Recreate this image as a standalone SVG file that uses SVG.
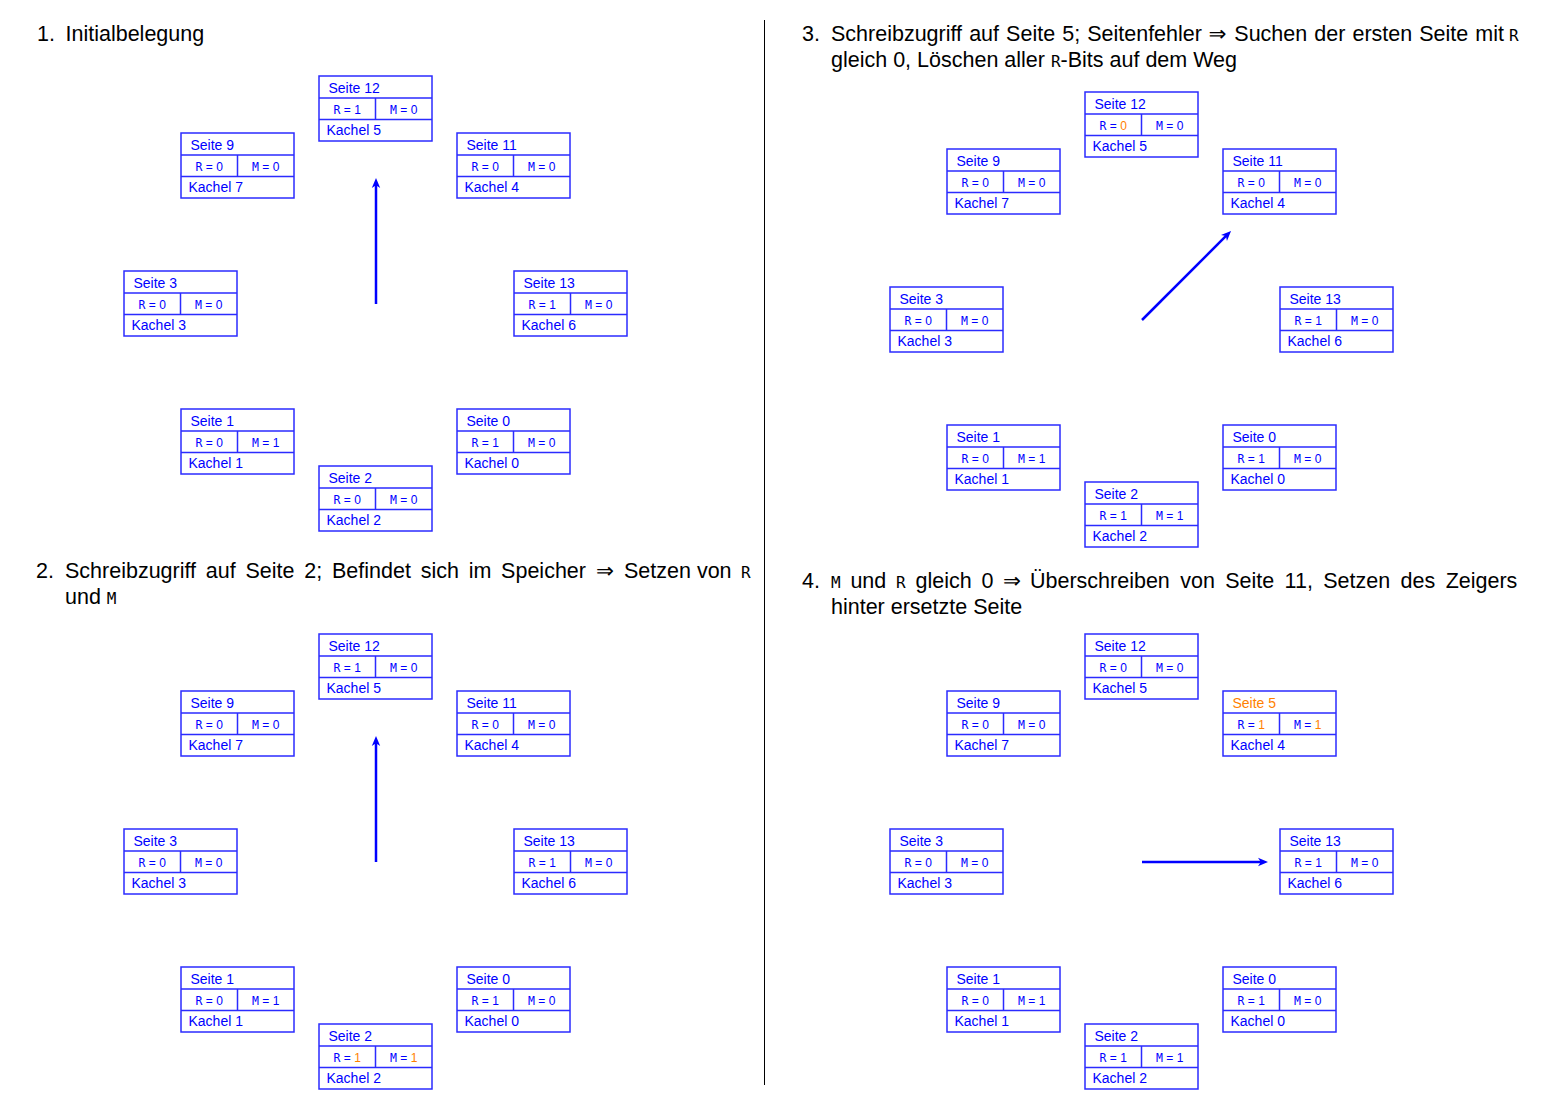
<svg xmlns="http://www.w3.org/2000/svg" width="1548" height="1117" viewBox="0 0 1548 1117">
<defs>
<style>
.box{fill:#fff;stroke:#2b2bff;stroke-width:1.5}
.ln{fill:none;stroke:#2b2bff;stroke-width:1.5}
.t{font-family:"Liberation Sans",Arial,sans-serif;font-size:14px;fill:#0000ff}
.v{font-family:"Liberation Sans",Arial,sans-serif;font-size:12px;fill:#0000ff;text-anchor:middle}
.m{font-family:"DejaVu Sans Mono",monospace;font-size:11.5px}
.o{fill:#ff8000}
.h{font-family:"Liberation Sans",Arial,sans-serif;font-size:21.5px;fill:#000}
.hm{font-family:"DejaVu Sans Mono",monospace;font-size:16px}
.sym{font-family:"DejaVu Sans",sans-serif}
.ar{fill:none;stroke:#0000ff;stroke-width:2.5;marker-end:url(#ah)}
.sep{stroke:#000;stroke-width:1}
</style>
<marker id="ah" viewBox="0 0 10 10" refX="4" refY="5" markerWidth="10" markerHeight="10" markerUnits="userSpaceOnUse" orient="auto">
<path d="M0,0.8 L10,5 L0,9.2 L2.8,5 Z" fill="#0000ff"/>
</marker>
</defs>
<rect width="1548" height="1117" fill="#fff"/>
<line class="sep" x1="764.5" y1="20" x2="764.5" y2="1085"/>

<g id="headers">
<text class="h" x="37" y="41">1.</text>
<text class="h" x="65.5" y="41">Initialbelegung</text>

<text class="h" x="36" y="578">2.</text>
<text class="h" y="578"><tspan x="65" style="word-spacing:3.8px">Schreibzugriff auf Seite 2; Befindet sich im Speicher</tspan><tspan x="596" class="sym">⇒</tspan><tspan x="624">Setzen von</tspan><tspan x="741" class="hm">R</tspan></text>
<text class="h" x="65" y="604">und <tspan class="hm">M</tspan></text>

<text class="h" x="802" y="41">3.</text>
<text class="h" y="41"><tspan x="831" style="word-spacing:1.1px">Schreibzugriff auf Seite 5; Seitenfehler</tspan><tspan x="1208.5" class="sym">⇒</tspan><tspan x="1234.3" style="word-spacing:1.1px">Suchen der ersten Seite mit</tspan><tspan x="1509" class="hm">R</tspan></text>
<text class="h" x="831" y="67">gleich 0, Löschen aller <tspan class="hm">R</tspan>-Bits auf dem Weg</text>

<text class="h" x="802" y="588">4.</text>
<text class="h" y="588" style="word-spacing:3.8px"><tspan x="831" class="hm">M</tspan> und <tspan class="hm">R</tspan> gleich 0</text>
<text class="h" y="588"><tspan x="1003" class="sym">⇒</tspan><tspan x="1030" style="word-spacing:4.4px">Überschreiben von Seite 11, Setzen des Zeigers</tspan></text>
<text class="h" x="831" y="614">hinter ersetzte Seite</text>
</g>

<g id="panel1">
<g id="p1-seite12" transform="translate(319,76)"><rect class="box" width="113" height="65"/><path class="ln" d="M0 22H113M0 43.5H113M56.5 22V43.5"/><text class="t" x="9.5" y="16.5">Seite 12</text><text class="v" x="28.25" y="37.5"><tspan class="m">R</tspan> = 1</text><text class="v" x="84.75" y="37.5"><tspan class="m">M</tspan> = 0</text><text class="t" x="7.5" y="59">Kachel 5</text></g>
<g id="p1-seite9" transform="translate(181,133)"><rect class="box" width="113" height="65"/><path class="ln" d="M0 22H113M0 43.5H113M56.5 22V43.5"/><text class="t" x="9.5" y="16.5">Seite 9</text><text class="v" x="28.25" y="37.5"><tspan class="m">R</tspan> = 0</text><text class="v" x="84.75" y="37.5"><tspan class="m">M</tspan> = 0</text><text class="t" x="7.5" y="59">Kachel 7</text></g>
<g id="p1-seite11" transform="translate(457,133)"><rect class="box" width="113" height="65"/><path class="ln" d="M0 22H113M0 43.5H113M56.5 22V43.5"/><text class="t" x="9.5" y="16.5">Seite 11</text><text class="v" x="28.25" y="37.5"><tspan class="m">R</tspan> = 0</text><text class="v" x="84.75" y="37.5"><tspan class="m">M</tspan> = 0</text><text class="t" x="7.5" y="59">Kachel 4</text></g>
<g id="p1-seite3" transform="translate(124,271)"><rect class="box" width="113" height="65"/><path class="ln" d="M0 22H113M0 43.5H113M56.5 22V43.5"/><text class="t" x="9.5" y="16.5">Seite 3</text><text class="v" x="28.25" y="37.5"><tspan class="m">R</tspan> = 0</text><text class="v" x="84.75" y="37.5"><tspan class="m">M</tspan> = 0</text><text class="t" x="7.5" y="59">Kachel 3</text></g>
<g id="p1-seite13" transform="translate(514,271)"><rect class="box" width="113" height="65"/><path class="ln" d="M0 22H113M0 43.5H113M56.5 22V43.5"/><text class="t" x="9.5" y="16.5">Seite 13</text><text class="v" x="28.25" y="37.5"><tspan class="m">R</tspan> = 1</text><text class="v" x="84.75" y="37.5"><tspan class="m">M</tspan> = 0</text><text class="t" x="7.5" y="59">Kachel 6</text></g>
<g id="p1-seite1" transform="translate(181,409)"><rect class="box" width="113" height="65"/><path class="ln" d="M0 22H113M0 43.5H113M56.5 22V43.5"/><text class="t" x="9.5" y="16.5">Seite 1</text><text class="v" x="28.25" y="37.5"><tspan class="m">R</tspan> = 0</text><text class="v" x="84.75" y="37.5"><tspan class="m">M</tspan> = 1</text><text class="t" x="7.5" y="59">Kachel 1</text></g>
<g id="p1-seite0" transform="translate(457,409)"><rect class="box" width="113" height="65"/><path class="ln" d="M0 22H113M0 43.5H113M56.5 22V43.5"/><text class="t" x="9.5" y="16.5">Seite 0</text><text class="v" x="28.25" y="37.5"><tspan class="m">R</tspan> = 1</text><text class="v" x="84.75" y="37.5"><tspan class="m">M</tspan> = 0</text><text class="t" x="7.5" y="59">Kachel 0</text></g>
<g id="p1-seite2" transform="translate(319,466)"><rect class="box" width="113" height="65"/><path class="ln" d="M0 22H113M0 43.5H113M56.5 22V43.5"/><text class="t" x="9.5" y="16.5">Seite 2</text><text class="v" x="28.25" y="37.5"><tspan class="m">R</tspan> = 0</text><text class="v" x="84.75" y="37.5"><tspan class="m">M</tspan> = 0</text><text class="t" x="7.5" y="59">Kachel 2</text></g>
</g>

<g id="panel2" transform="translate(0,558)">
<g id="p2-seite12" transform="translate(319,76)"><rect class="box" width="113" height="65"/><path class="ln" d="M0 22H113M0 43.5H113M56.5 22V43.5"/><text class="t" x="9.5" y="16.5">Seite 12</text><text class="v" x="28.25" y="37.5"><tspan class="m">R</tspan> = 1</text><text class="v" x="84.75" y="37.5"><tspan class="m">M</tspan> = 0</text><text class="t" x="7.5" y="59">Kachel 5</text></g>
<g id="p2-seite9" transform="translate(181,133)"><rect class="box" width="113" height="65"/><path class="ln" d="M0 22H113M0 43.5H113M56.5 22V43.5"/><text class="t" x="9.5" y="16.5">Seite 9</text><text class="v" x="28.25" y="37.5"><tspan class="m">R</tspan> = 0</text><text class="v" x="84.75" y="37.5"><tspan class="m">M</tspan> = 0</text><text class="t" x="7.5" y="59">Kachel 7</text></g>
<g id="p2-seite11" transform="translate(457,133)"><rect class="box" width="113" height="65"/><path class="ln" d="M0 22H113M0 43.5H113M56.5 22V43.5"/><text class="t" x="9.5" y="16.5">Seite 11</text><text class="v" x="28.25" y="37.5"><tspan class="m">R</tspan> = 0</text><text class="v" x="84.75" y="37.5"><tspan class="m">M</tspan> = 0</text><text class="t" x="7.5" y="59">Kachel 4</text></g>
<g id="p2-seite3" transform="translate(124,271)"><rect class="box" width="113" height="65"/><path class="ln" d="M0 22H113M0 43.5H113M56.5 22V43.5"/><text class="t" x="9.5" y="16.5">Seite 3</text><text class="v" x="28.25" y="37.5"><tspan class="m">R</tspan> = 0</text><text class="v" x="84.75" y="37.5"><tspan class="m">M</tspan> = 0</text><text class="t" x="7.5" y="59">Kachel 3</text></g>
<g id="p2-seite13" transform="translate(514,271)"><rect class="box" width="113" height="65"/><path class="ln" d="M0 22H113M0 43.5H113M56.5 22V43.5"/><text class="t" x="9.5" y="16.5">Seite 13</text><text class="v" x="28.25" y="37.5"><tspan class="m">R</tspan> = 1</text><text class="v" x="84.75" y="37.5"><tspan class="m">M</tspan> = 0</text><text class="t" x="7.5" y="59">Kachel 6</text></g>
<g id="p2-seite1" transform="translate(181,409)"><rect class="box" width="113" height="65"/><path class="ln" d="M0 22H113M0 43.5H113M56.5 22V43.5"/><text class="t" x="9.5" y="16.5">Seite 1</text><text class="v" x="28.25" y="37.5"><tspan class="m">R</tspan> = 0</text><text class="v" x="84.75" y="37.5"><tspan class="m">M</tspan> = 1</text><text class="t" x="7.5" y="59">Kachel 1</text></g>
<g id="p2-seite0" transform="translate(457,409)"><rect class="box" width="113" height="65"/><path class="ln" d="M0 22H113M0 43.5H113M56.5 22V43.5"/><text class="t" x="9.5" y="16.5">Seite 0</text><text class="v" x="28.25" y="37.5"><tspan class="m">R</tspan> = 1</text><text class="v" x="84.75" y="37.5"><tspan class="m">M</tspan> = 0</text><text class="t" x="7.5" y="59">Kachel 0</text></g>
<g id="p2-seite2" transform="translate(319,466)"><rect class="box" width="113" height="65"/><path class="ln" d="M0 22H113M0 43.5H113M56.5 22V43.5"/><text class="t" x="9.5" y="16.5">Seite 2</text><text class="v" x="28.25" y="37.5"><tspan class="m">R</tspan> = <tspan class="o">1</tspan></text><text class="v" x="84.75" y="37.5"><tspan class="m">M</tspan> = <tspan class="o">1</tspan></text><text class="t" x="7.5" y="59">Kachel 2</text></g>
</g>

<g id="panel3" transform="translate(766,16)">
<g id="p3-seite12" transform="translate(319,76)"><rect class="box" width="113" height="65"/><path class="ln" d="M0 22H113M0 43.5H113M56.5 22V43.5"/><text class="t" x="9.5" y="16.5">Seite 12</text><text class="v" x="28.25" y="37.5"><tspan class="m">R</tspan> = <tspan class="o">0</tspan></text><text class="v" x="84.75" y="37.5"><tspan class="m">M</tspan> = 0</text><text class="t" x="7.5" y="59">Kachel 5</text></g>
<g id="p3-seite9" transform="translate(181,133)"><rect class="box" width="113" height="65"/><path class="ln" d="M0 22H113M0 43.5H113M56.5 22V43.5"/><text class="t" x="9.5" y="16.5">Seite 9</text><text class="v" x="28.25" y="37.5"><tspan class="m">R</tspan> = 0</text><text class="v" x="84.75" y="37.5"><tspan class="m">M</tspan> = 0</text><text class="t" x="7.5" y="59">Kachel 7</text></g>
<g id="p3-seite11" transform="translate(457,133)"><rect class="box" width="113" height="65"/><path class="ln" d="M0 22H113M0 43.5H113M56.5 22V43.5"/><text class="t" x="9.5" y="16.5">Seite 11</text><text class="v" x="28.25" y="37.5"><tspan class="m">R</tspan> = 0</text><text class="v" x="84.75" y="37.5"><tspan class="m">M</tspan> = 0</text><text class="t" x="7.5" y="59">Kachel 4</text></g>
<g id="p3-seite3" transform="translate(124,271)"><rect class="box" width="113" height="65"/><path class="ln" d="M0 22H113M0 43.5H113M56.5 22V43.5"/><text class="t" x="9.5" y="16.5">Seite 3</text><text class="v" x="28.25" y="37.5"><tspan class="m">R</tspan> = 0</text><text class="v" x="84.75" y="37.5"><tspan class="m">M</tspan> = 0</text><text class="t" x="7.5" y="59">Kachel 3</text></g>
<g id="p3-seite13" transform="translate(514,271)"><rect class="box" width="113" height="65"/><path class="ln" d="M0 22H113M0 43.5H113M56.5 22V43.5"/><text class="t" x="9.5" y="16.5">Seite 13</text><text class="v" x="28.25" y="37.5"><tspan class="m">R</tspan> = 1</text><text class="v" x="84.75" y="37.5"><tspan class="m">M</tspan> = 0</text><text class="t" x="7.5" y="59">Kachel 6</text></g>
<g id="p3-seite1" transform="translate(181,409)"><rect class="box" width="113" height="65"/><path class="ln" d="M0 22H113M0 43.5H113M56.5 22V43.5"/><text class="t" x="9.5" y="16.5">Seite 1</text><text class="v" x="28.25" y="37.5"><tspan class="m">R</tspan> = 0</text><text class="v" x="84.75" y="37.5"><tspan class="m">M</tspan> = 1</text><text class="t" x="7.5" y="59">Kachel 1</text></g>
<g id="p3-seite0" transform="translate(457,409)"><rect class="box" width="113" height="65"/><path class="ln" d="M0 22H113M0 43.5H113M56.5 22V43.5"/><text class="t" x="9.5" y="16.5">Seite 0</text><text class="v" x="28.25" y="37.5"><tspan class="m">R</tspan> = 1</text><text class="v" x="84.75" y="37.5"><tspan class="m">M</tspan> = 0</text><text class="t" x="7.5" y="59">Kachel 0</text></g>
<g id="p3-seite2" transform="translate(319,466)"><rect class="box" width="113" height="65"/><path class="ln" d="M0 22H113M0 43.5H113M56.5 22V43.5"/><text class="t" x="9.5" y="16.5">Seite 2</text><text class="v" x="28.25" y="37.5"><tspan class="m">R</tspan> = 1</text><text class="v" x="84.75" y="37.5"><tspan class="m">M</tspan> = 1</text><text class="t" x="7.5" y="59">Kachel 2</text></g>
</g>

<g id="panel4" transform="translate(766,558)">
<g id="p4-seite12" transform="translate(319,76)"><rect class="box" width="113" height="65"/><path class="ln" d="M0 22H113M0 43.5H113M56.5 22V43.5"/><text class="t" x="9.5" y="16.5">Seite 12</text><text class="v" x="28.25" y="37.5"><tspan class="m">R</tspan> = 0</text><text class="v" x="84.75" y="37.5"><tspan class="m">M</tspan> = 0</text><text class="t" x="7.5" y="59">Kachel 5</text></g>
<g id="p4-seite9" transform="translate(181,133)"><rect class="box" width="113" height="65"/><path class="ln" d="M0 22H113M0 43.5H113M56.5 22V43.5"/><text class="t" x="9.5" y="16.5">Seite 9</text><text class="v" x="28.25" y="37.5"><tspan class="m">R</tspan> = 0</text><text class="v" x="84.75" y="37.5"><tspan class="m">M</tspan> = 0</text><text class="t" x="7.5" y="59">Kachel 7</text></g>
<g id="p4-seite5" transform="translate(457,133)"><rect class="box" width="113" height="65"/><path class="ln" d="M0 22H113M0 43.5H113M56.5 22V43.5"/><text class="t o" x="9.5" y="16.5">Seite 5</text><text class="v" x="28.25" y="37.5"><tspan class="m">R</tspan> = <tspan class="o">1</tspan></text><text class="v" x="84.75" y="37.5"><tspan class="m">M</tspan> = <tspan class="o">1</tspan></text><text class="t" x="7.5" y="59">Kachel 4</text></g>
<g id="p4-seite3" transform="translate(124,271)"><rect class="box" width="113" height="65"/><path class="ln" d="M0 22H113M0 43.5H113M56.5 22V43.5"/><text class="t" x="9.5" y="16.5">Seite 3</text><text class="v" x="28.25" y="37.5"><tspan class="m">R</tspan> = 0</text><text class="v" x="84.75" y="37.5"><tspan class="m">M</tspan> = 0</text><text class="t" x="7.5" y="59">Kachel 3</text></g>
<g id="p4-seite13" transform="translate(514,271)"><rect class="box" width="113" height="65"/><path class="ln" d="M0 22H113M0 43.5H113M56.5 22V43.5"/><text class="t" x="9.5" y="16.5">Seite 13</text><text class="v" x="28.25" y="37.5"><tspan class="m">R</tspan> = 1</text><text class="v" x="84.75" y="37.5"><tspan class="m">M</tspan> = 0</text><text class="t" x="7.5" y="59">Kachel 6</text></g>
<g id="p4-seite1" transform="translate(181,409)"><rect class="box" width="113" height="65"/><path class="ln" d="M0 22H113M0 43.5H113M56.5 22V43.5"/><text class="t" x="9.5" y="16.5">Seite 1</text><text class="v" x="28.25" y="37.5"><tspan class="m">R</tspan> = 0</text><text class="v" x="84.75" y="37.5"><tspan class="m">M</tspan> = 1</text><text class="t" x="7.5" y="59">Kachel 1</text></g>
<g id="p4-seite0" transform="translate(457,409)"><rect class="box" width="113" height="65"/><path class="ln" d="M0 22H113M0 43.5H113M56.5 22V43.5"/><text class="t" x="9.5" y="16.5">Seite 0</text><text class="v" x="28.25" y="37.5"><tspan class="m">R</tspan> = 1</text><text class="v" x="84.75" y="37.5"><tspan class="m">M</tspan> = 0</text><text class="t" x="7.5" y="59">Kachel 0</text></g>
<g id="p4-seite2" transform="translate(319,466)"><rect class="box" width="113" height="65"/><path class="ln" d="M0 22H113M0 43.5H113M56.5 22V43.5"/><text class="t" x="9.5" y="16.5">Seite 2</text><text class="v" x="28.25" y="37.5"><tspan class="m">R</tspan> = 1</text><text class="v" x="84.75" y="37.5"><tspan class="m">M</tspan> = 1</text><text class="t" x="7.5" y="59">Kachel 2</text></g>
</g>

<g id="connectors">
<line class="ar" x1="376" y1="304" x2="376" y2="184"/>
<line class="ar" x1="1142" y1="320" x2="1226.8" y2="235.2"/>
<line class="ar" x1="376" y1="862" x2="376" y2="742"/>
<line class="ar" x1="1142" y1="862" x2="1262" y2="862"/>
</g>
</svg>
